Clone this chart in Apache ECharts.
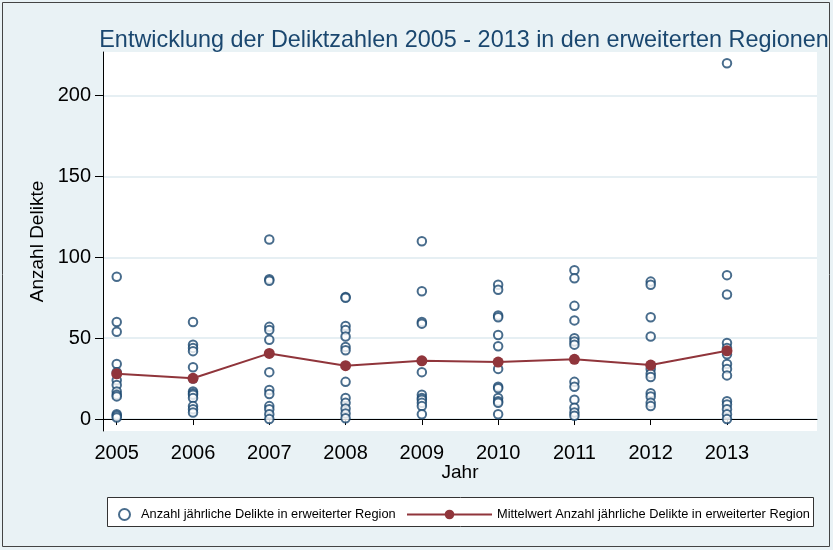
<!DOCTYPE html>
<html>
<head>
<meta charset="utf-8">
<script src="https://cdn.jsdelivr.net/npm/echarts@6/dist/echarts.min.js"></script>
<style>
  html, body { margin: 0; padding: 0; background: #e9f2f5; }
  #chart { width: 833px; height: 550px; }
</style>
</head>
<body>
<div id="chart"></div>
<script>
// Jahre der Erhebung
const years = [2005, 2006, 2007, 2008, 2009, 2010, 2011, 2012, 2013];

// Anzahl jährlicher Delikte je erweiterter Region
const d2005 = [88, 60, 54, 34, 29, 24, 21, 17, 15, 14, 3, 2, 1];
const d2006 = [60, 46, 44, 42, 32, 25, 17, 16, 15, 13, 8, 6, 4];
const d2007 = [111, 86.5, 85.5, 57, 55, 49, 29, 18, 15.5, 8, 6, 3, 0];
const d2008 = [75.5, 75, 57.5, 55, 51, 44.5, 42.5, 23, 13, 10, 6.5, 3.5, 0.5];
const d2009 = [110, 79, 60, 59, 29, 15, 13, 12, 10, 8, 3];
const d2010 = [83, 80, 64, 63, 52, 45, 31, 20, 19, 13, 11, 10, 3];
const d2011 = [92, 87, 70, 61, 50, 48, 46, 23, 20, 12, 7, 4, 2];
const d2012 = [85, 83, 63, 51, 31, 28, 26, 16, 14, 10, 8];
const d2013 = [220, 89, 77, 47, 44, 40, 34, 31, 27, 11, 9, 6, 3, 0];

// Mittelwert je Jahr
const meanValues = [28.0, 25.2, 40.6, 33.0, 36.0, 35.2, 36.9, 33.4, 42.2];

// Achsenbeschriftung
const yTicks = [0, 50, 100, 150, 200];
const xTicks = years;

const perYear = [d2005, d2006, d2007, d2008, d2009, d2010, d2011, d2012, d2013];
const scatterData = [];
perYear.forEach((vals, i) => vals.forEach(v => scatterData.push([years[i], v])));
const meanData = years.map((y, i) => [y, meanValues[i]]);

const NAVY = '#1a476f';
const MAROON = '#90353b';
const FONT = '"Liberation Sans", Arial, sans-serif';
const NAME1 = 'Anzahl jährliche Delikte in erweiterter Region';
const NAME2 = 'Mittelwert Anzahl jährliche Delikte in erweiterter Region';

const chart = echarts.init(document.getElementById('chart'));
chart.setOption({
  backgroundColor: '#e9f2f5',
  animation: false,
  textStyle: { fontFamily: FONT },
  title: {
    text: 'Entwicklung der Deliktzahlen 2005 - 2013 in den erweiterten Regionen',
    left: 459, top: 24, textAlign: 'center',
    textStyle: { color: NAVY, fontSize: 23.4, fontWeight: 'normal', fontFamily: FONT }
  },
  graphic: [
    { type: 'rect', shape: { x: 2.5, y: 2.5, width: 827, height: 544 },
      style: { fill: 'none', stroke: '#444', lineWidth: 1 }, silent: true, z: 100 },
    { type: 'rect', shape: { x: 107.5, y: 497.5, width: 706, height: 29 },
      style: { fill: '#ffffff', stroke: '#333', lineWidth: 1 }, silent: true, z: 0 }
  ],
  legend: [
    {
      data: [NAME1], left: 113, top: 503, itemWidth: 11, itemHeight: 11, itemGap: 0,
      textStyle: { fontSize: 12.8, color: '#000', fontFamily: FONT, padding: [0, 0, 0, 6] },
      z: 10
    },
    {
      data: [NAME2], left: 401, top: 503, itemWidth: 85, itemHeight: 12, itemGap: 0,
      textStyle: { fontSize: 12.8, color: '#000', fontFamily: FONT, padding: [0, 0, 0, 0] },
      z: 10
    }
  ],
  grid: {
    left: 103, right: 16, top: 52, bottom: 119,
    show: true, backgroundColor: '#ffffff', borderWidth: 0
  },
  xAxis: {
    type: 'value', min: 2004.82, max: 2014.18,
    name: 'Jahr', nameLocation: 'middle', nameGap: 32, nameMoveOverlap: false,
    nameTextStyle: { fontSize: 19, color: '#000', fontFamily: FONT },
    axisLine: { show: true, lineStyle: { color: '#000', width: 1 } },
    axisTick: { show: true, customValues: xTicks, length: 6, lineStyle: { color: '#000' } },
    axisLabel: { customValues: xTicks, fontSize: 20, color: '#000', margin: 12, fontFamily: FONT,
      formatter: v => String(v) },
    splitLine: { show: false }
  },
  yAxis: {
    type: 'value', min: -7.4, max: 227,
    name: 'Anzahl Delikte', nameLocation: 'middle', nameGap: 56, nameMoveOverlap: false,
    nameTextStyle: { fontSize: 19, color: '#000', fontFamily: FONT },
    axisLine: { show: true, lineStyle: { color: '#000', width: 1 } },
    axisTick: { show: true, customValues: yTicks, length: 8, lineStyle: { color: '#000' } },
    axisLabel: { customValues: yTicks, fontSize: 20, color: '#000', margin: 12, fontFamily: FONT },
    splitLine: { show: true, lineStyle: { color: '#e6eff3', width: 2 } }
  },
  series: [
    {
      name: NAME1, type: 'scatter', data: scatterData,
      symbol: 'emptyCircle', symbolSize: 8.5,
      itemStyle: { color: NAVY, borderColor: NAVY, borderWidth: 2.3 },
      z: 3
    },
    {
      name: NAME2, type: 'line', data: meanData,
      symbol: 'circle', symbolSize: 11, showSymbol: true,
      lineStyle: { color: MAROON, width: 2 },
      itemStyle: { color: MAROON },
      z: 4
    }
  ]
});
</script>
</body>
</html>
